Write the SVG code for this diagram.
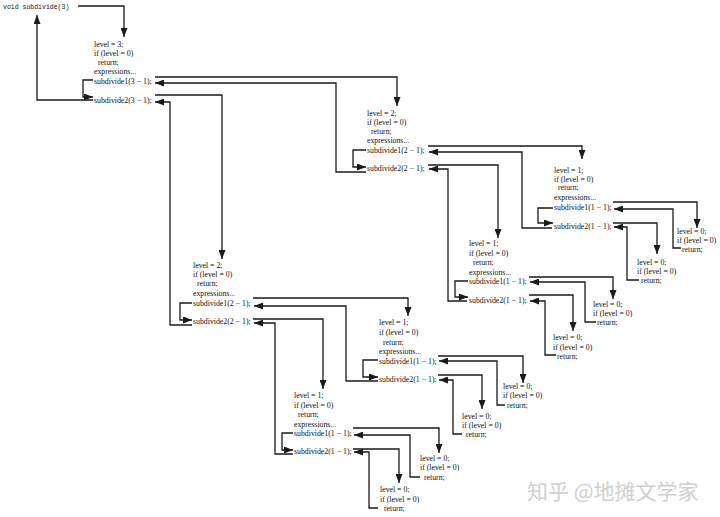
<svg xmlns="http://www.w3.org/2000/svg" width="720" height="517" viewBox="0 0 720 517">
<style>
text{font-family:"Liberation Serif","Times New Roman",serif;font-size:7.8px;fill:#111}
.mono{font-family:"Liberation Mono","Courier New",monospace;font-size:6.5px}
.wm{font-family:"Noto Sans CJK SC","Noto Sans",sans-serif;font-size:21px;fill:#d0d0d0}
.c path{fill:none;stroke:#1a1a1a;stroke-width:1.3;marker-end:url(#ah)}
</style>
<defs>
<marker id="ah" markerUnits="userSpaceOnUse" viewBox="0 0 9 7" refX="9" refY="3.5" markerWidth="9" markerHeight="7" orient="auto">
<path d="M0,0 L9,3.5 L0,7 z" fill="#1a1a1a"/>
</marker>
</defs>
<rect width="720" height="517" fill="#fff"/>
<g id="start"><text class="mono" x="3" y="8.5">void subdivide(3)</text></g>
<g id="A">
<text x="94" y="47">level = 3;</text><text x="94" y="56">if (level = 0)</text><text x="98" y="65">return;</text><text x="94" y="74">expressions...</text><text x="94" y="84">subdivide1(3 − 1);</text><text x="94" y="102.5">subdivide2(3 − 1);</text>
</g>
<g id="B">
<text x="367" y="116">level = 2;</text><text x="367" y="125">if (level = 0)</text><text x="371" y="134">return;</text><text x="367" y="143">expressions...</text><text x="367" y="153">subdivide1(2 − 1);</text><text x="367" y="171">subdivide2(2 − 1);</text>
</g>
<g id="C">
<text x="554" y="172.5">level = 1;</text><text x="554" y="181.5">if (level = 0)</text><text x="558" y="190">return;</text><text x="554" y="199.5">expressions...</text><text x="554" y="210">subdivide1(1 − 1);</text><text x="554" y="228.5">subdivide2(1 − 1);</text>
</g>
<g id="D"><text x="677" y="234">level = 0;</text><text x="677" y="243">if (level = 0)</text><text x="682" y="251.5">return;</text></g>
<g id="E"><text x="637" y="265">level = 0;</text><text x="637" y="274">if (level = 0)</text><text x="641" y="283">return;</text></g>
<g id="F">
<text x="469" y="246">level = 1;</text><text x="469" y="255.5">if (level = 0)</text><text x="473" y="265">return;</text><text x="469" y="274.5">expressions...</text><text x="469" y="284">subdivide1(1 − 1);</text><text x="469" y="302.5">subdivide2(1 − 1);</text>
</g>
<g id="G"><text x="593" y="306.5">level = 0;</text><text x="593" y="316">if (level = 0)</text><text x="597" y="325">return;</text></g>
<g id="H"><text x="553" y="340">level = 0;</text><text x="553" y="349.5">if (level = 0)</text><text x="557" y="358.5">return;</text></g>
<g id="I">
<text x="193" y="268">level = 2;</text><text x="193" y="277">if (level = 0)</text><text x="197" y="286">return;</text><text x="193" y="295.5">expressions...</text><text x="193" y="305.5">subdivide1(2 − 1);</text><text x="193" y="324">subdivide2(2 − 1);</text>
</g>
<g id="J">
<text x="379" y="325">level = 1;</text><text x="379" y="335">if (level = 0)</text><text x="383" y="344.5">return;</text><text x="379" y="354">expressions...</text><text x="379" y="363.5">subdivide1(1 − 1);</text><text x="379" y="381.5">subdivide2(1 − 1);</text>
</g>
<g id="K"><text x="503" y="388.5">level = 0;</text><text x="503" y="398">if (level = 0)</text><text x="507" y="407.5">return;</text></g>
<g id="L"><text x="462" y="418.5">level = 0;</text><text x="462" y="428">if (level = 0)</text><text x="466" y="437">return;</text></g>
<g id="M">
<text x="294" y="398">level = 1;</text><text x="294" y="407.5">if (level = 0)</text><text x="298" y="417">return;</text><text x="294" y="426.5">expressions...</text><text x="294" y="436">subdivide1(1 − 1);</text><text x="294" y="454">subdivide2(1 − 1);</text>
</g>
<g id="N"><text x="420" y="460.5">level = 0;</text><text x="420" y="470">if (level = 0)</text><text x="424" y="479.5">return;</text></g>
<g id="O"><text x="380" y="492">level = 0;</text><text x="380" y="501.5">if (level = 0)</text><text x="384" y="511">return;</text></g>
<g id="connectors" class="c">
<path d="M78,6 H124 V37"/>
<path d="M93,100 H37 V15"/>
<path d="M93,80 H83 V97 H93"/>
<path d="M155,77 H397 V106"/>
<path d="M366,172 H336 V83 H155"/>
<path d="M155,95 H222 V259"/>
<path d="M192,325 H170 V102 H155"/>
<path d="M366,150 H353 V167 H366"/>
<path d="M428,146 H582 V159"/>
<path d="M552,228 H522 V152 H429"/>
<path d="M428,165 H498 V238"/>
<path d="M467,301 H448 V169 H429"/>
<path d="M553,208 H538 V223 H553"/>
<path d="M613,202 H697 V228"/>
<path d="M681,248 H673 V209 H614"/>
<path d="M613,223 H657 V254"/>
<path d="M639,280 H627 V227 H614"/>
<path d="M468,281 H455 V297 H468"/>
<path d="M529,277 H613 V299"/>
<path d="M596,322 H585 V282 H530"/>
<path d="M529,295 H573 V331"/>
<path d="M556,355 H545 V301 H530"/>
<path d="M192,303 H180 V320 H192"/>
<path d="M253,298 H408 V316"/>
<path d="M378,381 H346 V306 H254"/>
<path d="M253,319 H323 V389"/>
<path d="M293,454 H275 V323 H254"/>
<path d="M378,360 H363 V377 H378"/>
<path d="M438,356 H523 V383"/>
<path d="M505,405 H497 V361 H439"/>
<path d="M438,375 H482 V409"/>
<path d="M462,434 H453 V380 H439"/>
<path d="M293,433 H282 V450 H293"/>
<path d="M353,428 H439 V453"/>
<path d="M420,477 H410 V435 H354"/>
<path d="M353,449 H399 V483"/>
<path d="M378,508 H369 V452 H354"/>
</g>
<g id="watermark"><text class="wm" x="527" y="499">知乎 @地摊文学家</text></g>
</svg>
